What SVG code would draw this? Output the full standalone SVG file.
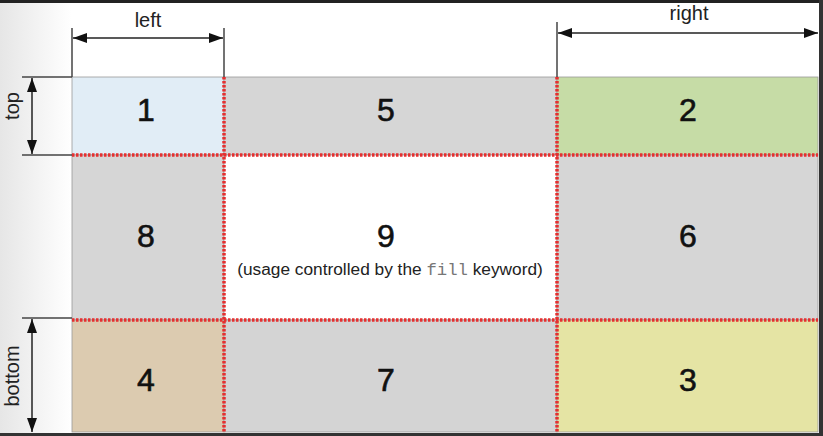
<svg xmlns="http://www.w3.org/2000/svg" width="823" height="436" viewBox="0 0 823 436">
<defs>
<linearGradient id="bg" x1="0" y1="0" x2="1" y2="0">
<stop offset="0" stop-color="#e6e6e6"/><stop offset="1" stop-color="#ffffff"/>
</linearGradient>
<marker id="ah" viewBox="0 0 14 10" refX="14" refY="5" markerWidth="14" markerHeight="10" orient="auto-start-reverse" markerUnits="userSpaceOnUse">
<path d="M0,0 L14,5 L0,10 Z" fill="#111"/>
</marker>
<style>
.num{font-family:"Liberation Sans",Arial,sans-serif;font-size:32px;fill:#111;stroke:#111;stroke-width:0.6;text-anchor:middle}
.lbl{font-family:"Liberation Sans",Arial,sans-serif;font-size:20px;fill:#222;text-anchor:middle}
.sub{font-family:"Liberation Sans",Arial,sans-serif;font-size:17.3px;fill:#222;text-anchor:middle}
.mono{font-family:"Liberation Mono","Courier New",monospace;fill:#777}
.ext{stroke:#444;stroke-width:1.5}
.dim{stroke:#222;stroke-width:1.5;marker-start:url(#ah);marker-end:url(#ah)}
.red{stroke:#e53030;stroke-width:3.5;stroke-dasharray:2.5 1.5}
.cell{stroke:#999;stroke-width:0.8}
</style>
</defs>
<rect width="823" height="436" fill="#fff"/>
<rect x="0" y="0" width="72" height="436" fill="url(#bg)"/>
<g id="cell1"><rect class="cell" x="72" y="77" width="152" height="78" fill="#e1edf6"/><text class="num" x="146" y="121">1</text></g>
<g id="cell5"><rect class="cell" x="224" y="77" width="333" height="78" fill="#d6d6d6"/><text class="num" x="386" y="121">5</text></g>
<g id="cell2"><rect class="cell" x="557" y="77" width="261" height="78" fill="#c6dca6"/><text class="num" x="688" y="121">2</text></g>
<g id="cell8"><rect class="cell" x="72" y="155" width="152" height="165" fill="#d6d6d6"/><text class="num" x="146" y="247">8</text></g>
<g id="cell9"><rect class="cell" x="224" y="155" width="333" height="165" fill="#ffffff"/><text class="num" x="386" y="247">9</text>
<text class="sub" x="390" y="275">(usage controlled by the <tspan class="mono">fill</tspan> keyword)</text></g>
<g id="cell6"><rect class="cell" x="557" y="155" width="261" height="165" fill="#d6d6d6"/><text class="num" x="688" y="247">6</text></g>
<g id="cell4"><rect class="cell" x="72" y="320" width="152" height="112" fill="#dccbb0"/><text class="num" x="146" y="391">4</text></g>
<g id="cell7"><rect class="cell" x="224" y="320" width="333" height="112" fill="#d4d4d4"/><text class="num" x="386" y="391">7</text></g>
<g id="cell3"><rect class="cell" x="557" y="320" width="261" height="112" fill="#e5e4a4"/><text class="num" x="688" y="391">3</text></g>
<g id="connectors">
<line class="red" x1="72" y1="155" x2="818" y2="155"/>
<line class="red" x1="72" y1="320" x2="818" y2="320"/>
<line class="red" x1="224" y1="77" x2="224" y2="432"/>
<line class="red" x1="557" y1="77" x2="557" y2="432"/>
<line class="ext" x1="72" y1="28" x2="72" y2="77"/>
<line class="ext" x1="224" y1="28" x2="224" y2="77"/>
<line class="ext" x1="557" y1="22" x2="557" y2="77"/>
<line class="ext" x1="22" y1="77" x2="72" y2="77"/>
<line class="ext" x1="22" y1="155" x2="72" y2="155"/>
<line class="ext" x1="22" y1="318" x2="72" y2="318"/>
<line class="dim" x1="73" y1="38" x2="223" y2="38"/>
<line class="dim" x1="558" y1="33" x2="818" y2="33"/>
<line class="dim" x1="32" y1="78" x2="32" y2="154"/>
<line class="dim" x1="32" y1="319" x2="32" y2="432"/>
</g>
<g id="labels">
<text class="lbl" x="148" y="27">left</text>
<text class="lbl" x="689" y="20">right</text>
<text class="lbl" transform="translate(19,106) rotate(-90)">top</text>
<text class="lbl" transform="translate(19,376) rotate(-90)">bottom</text>
</g>
<rect x="0" y="0" width="823" height="3" fill="#222"/>
<rect x="819" y="0" width="4" height="436" fill="#333"/>
<rect x="0" y="433" width="823" height="3" fill="#333"/>
</svg>
